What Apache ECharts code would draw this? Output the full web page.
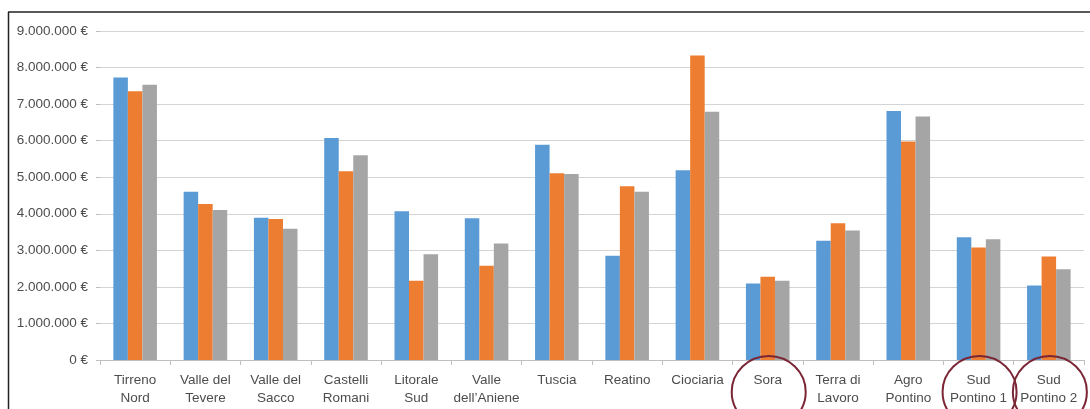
<!DOCTYPE html>
<html>
<head>
<meta charset="utf-8">
<script src="https://cdn.jsdelivr.net/npm/echarts@6/dist/echarts.min.js"></script>
<style>
  html, body { margin: 0; padding: 0; background: #fff; }
  #chart { width: 1090px; height: 409px; }
</style>
</head>
<body>
<div id="chart"></div>
<script>
// categories and values (euro)
const categories = ['Tirreno\nNord', 'Valle del\nTevere', 'Valle del\nSacco', 'Castelli\nRomani', 'Litorale\nSud',
  'Valle\ndell\u2019Aniene', 'Tuscia', 'Reatino', 'Ciociaria', 'Sora', 'Terra di\nLavoro', 'Agro\nPontino',
  'Sud\nPontino 1', 'Sud\nPontino 2'];
const blueValues   = [7730000, 4600000, 3890000, 6070000, 4070000, 3880000, 5890000, 2850000, 5190000, 2090000, 3260000, 6810000, 3360000, 2040000];
const orangeValues = [7350000, 4270000, 3860000, 5160000, 2170000, 2580000, 5110000, 4750000, 8330000, 2280000, 3740000, 5980000, 3080000, 2830000];
const grayValues   = [7530000, 4100000, 3590000, 5600000, 2890000, 3190000, 5090000, 4600000, 6790000, 2170000, 3540000, 6660000, 3300000, 2480000];
const yTicks = [0, 1000000, 2000000, 3000000, 4000000, 5000000, 6000000, 7000000, 8000000, 9000000];
const circled = ['Sora', 'Sud\nPontino 1', 'Sud\nPontino 2'];

const font = '"Liberation Sans", "DejaVu Sans", sans-serif';

function euro(v) {
  return String(v).replace(/\B(?=(\d{3})+(?!\d))/g, '.') + ' \u20ac';
}

const chart = echarts.init(document.getElementById('chart'));

const option = {
  animation: false,
  grid: { left: 100, right: 6, top: 31, bottom: 49, containLabel: false },
  xAxis: {
    type: 'category',
    data: categories,
    axisLine: { show: true, lineStyle: { color: '#bfbfbf', width: 1 } },
    axisTick: { show: true, length: 5, lineStyle: { color: '#bfbfbf' } },
    axisLabel: { color: '#4d4d4d', fontFamily: font, fontSize: 13.5, lineHeight: 18, margin: 11, interval: 0 }
  },
  yAxis: {
    type: 'value',
    min: yTicks[0],
    max: yTicks[yTicks.length - 1],
    interval: yTicks[1] - yTicks[0],
    axisLine: { show: false },
    axisTick: { show: true, length: 4, lineStyle: { color: '#bfbfbf' } },
    splitLine: { lineStyle: { color: '#d4d4d4', width: 1 } },
    axisLabel: { color: '#4d4d4d', fontFamily: font, fontSize: 13.5, margin: 12, formatter: euro }
  },
  series: [
    { name: 'Serie 1', type: 'bar', data: blueValues, itemStyle: { color: '#5b9bd5' }, barGap: '0%', barCategoryGap: '38%' },
    { name: 'Serie 2', type: 'bar', data: orangeValues, itemStyle: { color: '#ed7d31' }, barGap: '0%', barCategoryGap: '38%' },
    { name: 'Serie 3', type: 'bar', data: grayValues, itemStyle: { color: '#a5a5a5' }, barGap: '0%', barCategoryGap: '38%' }
  ]
};
chart.setOption(option);

// frame lines and circles around the highlighted areas
const graphics = [
  { type: 'line', shape: { x1: 8, y1: 12, x2: 1090, y2: 12 }, style: { stroke: '#222', lineWidth: 1.5 }, z: 10 },
  { type: 'line', shape: { x1: 8.5, y1: 12, x2: 8.5, y2: 409 }, style: { stroke: '#222', lineWidth: 1.5 }, z: 10 }
];
circled.forEach(function (name) {
  const cx = chart.convertToPixel({ xAxisIndex: 0 }, name);
  graphics.push({
    type: 'ellipse',
    shape: { cx: cx + 1, cy: 392, rx: 37, ry: 36 },
    style: { fill: 'none', stroke: '#7a2634', lineWidth: 2 },
    z: 10
  });
});
chart.setOption({ graphic: graphics });
</script>
</body>
</html>
